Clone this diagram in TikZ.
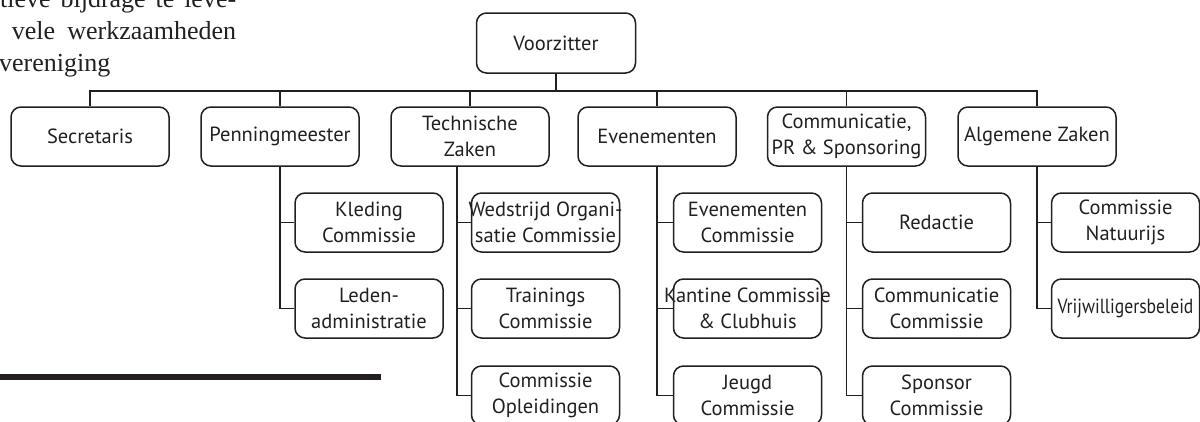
\documentclass[tikz,border=0pt]{standalone}
\usepackage{fontspec}
\setmainfont{PT Sans}
\newfontfamily\serifa{Liberation Serif}
\definecolor{ink}{HTML}{231F20}
\begin{document}
\begin{tikzpicture}[x=1pt,y=-1pt,
  orgbox/.style={draw=ink, line width=1.5pt, rounded corners=10pt, align=center,
    text=ink, font=\fontsize{20.5}{25.5}\selectfont, inner sep=0pt, minimum height=59pt},
  lvlbox/.style={orgbox, minimum width=158pt},
  subbox/.style={orgbox, minimum width=148pt},
  conn/.style={draw=ink, line width=1.5pt},
  para/.style={inner sep=0pt, text=ink, font=\serifa\fontsize{26}{31}\selectfont}]
\path[use as bounding box] (0,0) rectangle (1200,421);
\clip (0,0) rectangle (1200,421);

% paragraph fragment
\node[para, anchor=base west] (p1) at (0,7) {\makebox[236pt][s]{tieve bijdrage te leve-}};
\node[para, anchor=base west] (p2) at (11.7,39.5) {\makebox[224.3pt][s]{vele werkzaamheden}};
\node[para, anchor=base west] (p3) at (-1,71) {vereniging};

% rule
\draw[ink, line width=5.5pt] (0,377) -- (381,377);

% top
\node[orgbox, minimum width=159pt, minimum height=60pt] (voo) at (556,43) {Voorzitter};

% level 1
\node[lvlbox] (sec) at (90,136.5) {Secretaris};
\node[lvlbox] (pen) at (280,136.5) {Penningmeester};
\node[lvlbox] (tec) at (470,136.5) {Technische\\Zaken};
\node[lvlbox] (eve) at (657,136.5) {Evenementen};
\node[lvlbox] (com) at (846.5,136.5) {Communicatie,\\PR \& Sponsoring};
\node[lvlbox] (alg) at (1037,136.5) {Algemene Zaken};

\coordinate (bus) at (0,91);
\draw[conn] (voo.south) -- (voo.south |- bus);
\draw[conn] (sec.north) -- (sec.north |- bus) -- (alg.north |- bus) -- (alg.north);
\foreach \n in {pen,tec,eve,com}
  \draw[conn] (\n.north) -- (\n.north |- bus);

% Penningmeester
\node[subbox] (pa) at (369,222.5) {Kleding\\Commissie};
\node[subbox] (pb) at (369,308.5) {Leden-\\administratie};
\draw[conn] (pen.south) |- (pb.west);
\draw[conn] (pen.south |- pa.west) -- (pa.west);

% Technische Zaken
\node[subbox] (ta) at (545.5,222.5) {\makebox[146pt]{Wedstrijd Organi-}\\\makebox[146pt]{satie Commissie}};
\node[subbox] (tb) at (545.5,308.5) {Trainings\\Commissie};
\node[subbox] (tc) at (545.5,395.5) {Commissie\\Opleidingen};
\coordinate (tecb) at ([xshift=-13pt]tec.south);
\draw[conn] (tecb) |- (tc.west);
\draw[conn] (tecb |- ta.west) -- (ta.west);
\draw[conn] (tecb |- tb.west) -- (tb.west);

% Evenementen
\node[subbox] (ea) at (747.5,222.5) {Evenementen\\Commissie};
\node[subbox] (eb) at (747.5,308.5) {\makebox[146pt]{Kantine Commissie}\\\& Clubhuis};
\node[subbox] (ec) at (747.5,395.5) {Jeugd\\Commissie};
\draw[conn] (eve.south) |- (ec.west);
\draw[conn] (eve.south |- ea.west) -- (ea.west);
\draw[conn] (eve.south |- eb.west) -- (eb.west);

% Communicatie
\node[subbox] (ca) at (936.5,222.5) {Redactie};
\node[subbox] (cb) at (936.5,308.5) {Communicatie\\Commissie};
\node[subbox] (cc) at (936.5,395.5) {Sponsor\\Commissie};
\draw[conn] (com.south) |- (cc.west);
\draw[conn] (com.south |- ca.west) -- (ca.west);
\draw[conn] (com.south |- cb.west) -- (cb.west);

% Algemene Zaken
\node[subbox] (aa) at (1125.5,222.5) {Commissie\\Natuurijs};
\node[subbox] (ab) at (1125.5,308.5) {\scalebox{0.86}[1]{Vrijwilligersbeleid}};
\draw[conn] (alg.south) |- (ab.west);
\draw[conn] (alg.south |- aa.west) -- (aa.west);
\end{tikzpicture}
\end{document}
